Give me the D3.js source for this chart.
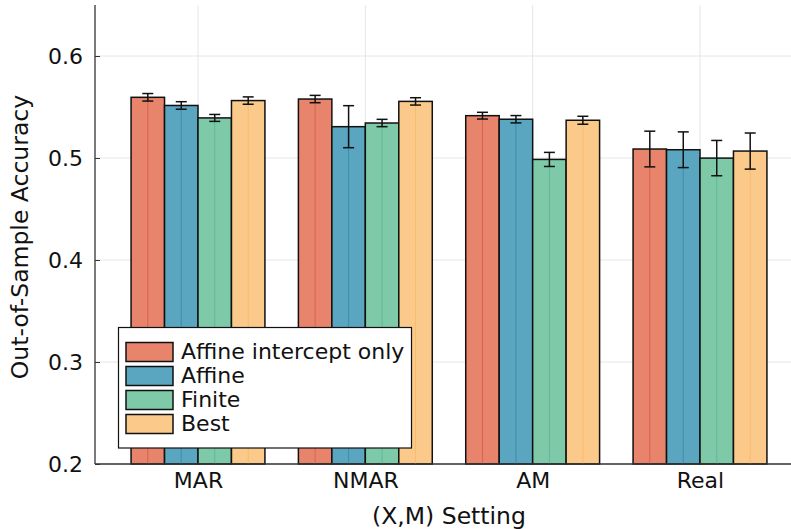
<!DOCTYPE html>
<html><head><meta charset="utf-8">
<script src="https://cdn.jsdelivr.net/npm/d3@7"></script>
<style>body{margin:0;background:#fff}svg{display:block;font-family:"DejaVu Sans",sans-serif}</style>
</head><body><svg id="c" width="791" height="529"></svg>
<script>
const categories = ["MAR","NMAR","AM","Real"];
const seriesNames = ["Affine intercept only","Affine","Finite","Best"];
const affineInterceptMean = [0.5595, 0.5578, 0.5415, 0.5088];
const affineInterceptErr  = [0.0037, 0.0036, 0.0033, 0.0175];
const affineMean = [0.5515, 0.5307, 0.5380, 0.5081];
const affineErr  = [0.0037, 0.0206, 0.0036, 0.0175];
const finiteMean = [0.5393, 0.5343, 0.4986, 0.4999];
const finiteErr  = [0.0034, 0.0036, 0.0069, 0.0173];
const bestMean = [0.5563, 0.5555, 0.5370, 0.5068];
const bestErr  = [0.0036, 0.0036, 0.0039, 0.0177];
const yTicks = [0.2, 0.3, 0.4, 0.5, 0.6];

const means = [affineInterceptMean, affineMean, finiteMean, bestMean];
const errs = [affineInterceptErr, affineErr, finiteErr, bestErr];
const fills = ["#e8846c", "#5aa5c0", "#7ecaa8", "#fbc98a"];
const midLines = ["#d9634a", "#3a8fb0", "#62b991", "#f8bb70"];

const svg = d3.select("#c");
const L = 95, B = 464, T = 5;
const x = d3.scaleLinear().domain([1, 4]).range([198, 700]);
const y = d3.scaleLinear().domain([0.2, 0.65]).range([B, T]);
const unit = x(1) - x(0);
const bw = 0.2 * unit;

// grid
svg.append("g").selectAll("line").data(yTicks).join("line")
  .attr("x1", L).attr("x2", 791).attr("y1", d => y(d)).attr("y2", d => y(d))
  .attr("stroke", "#e6e6e6").attr("stroke-width", 1);
svg.append("g").selectAll("line").data(categories).join("line")
  .attr("x1", (d,i) => x(i+1)).attr("x2", (d,i) => x(i+1)).attr("y1", T).attr("y2", B)
  .attr("stroke", "#e6e6e6").attr("stroke-width", 1);

// bars
const bars = [];
means.forEach((arr, s) => arr.forEach((v, i) => bars.push({s, i, v, e: errs[s][i]})));
const bx = d => x(d.i + 1) + (d.s - 2) * bw;
const g = svg.append("g");
g.selectAll("rect").data(bars).join("rect")
  .attr("x", bx).attr("width", bw)
  .attr("y", d => y(d.v)).attr("height", d => B - y(d.v))
  .attr("fill", d => fills[d.s]).attr("stroke", "#111").attr("stroke-width", 1.5);
g.selectAll("line.mid").data(bars).join("line").attr("class","mid")
  .attr("x1", d => bx(d) + bw/2).attr("x2", d => bx(d) + bw/2)
  .attr("y1", d => y(d.v) + 1).attr("y2", B)
  .attr("stroke", d => midLines[d.s]).attr("stroke-width", 1);

// error bars
const eg = svg.append("g").attr("stroke", "#111").attr("stroke-width", 1.5);
eg.selectAll("line.v").data(bars).join("line").attr("class","v")
  .attr("x1", d => bx(d) + bw/2).attr("x2", d => bx(d) + bw/2)
  .attr("y1", d => y(d.v + d.e)).attr("y2", d => y(d.v - d.e));
eg.selectAll("line.t").data(bars).join("line").attr("class","t")
  .attr("x1", d => bx(d) + bw/2 - 5.5).attr("x2", d => bx(d) + bw/2 + 5.5)
  .attr("y1", d => y(d.v + d.e)).attr("y2", d => y(d.v + d.e));
eg.selectAll("line.b").data(bars).join("line").attr("class","b")
  .attr("x1", d => bx(d) + bw/2 - 5.5).attr("x2", d => bx(d) + bw/2 + 5.5)
  .attr("y1", d => y(d.v - d.e)).attr("y2", d => y(d.v - d.e));

// axes
const yAxis = d3.axisLeft(y).tickValues(yTicks).tickFormat(d3.format(".1f")).tickSize(-5).tickPadding(12);
const ya = svg.append("g").attr("transform", `translate(${L},0)`).call(yAxis);
ya.select(".domain").remove();
ya.selectAll("line").attr("stroke", "#333");
ya.selectAll("text").attr("font-size", 22).attr("fill", "#111").attr("font-family", "DejaVu Sans");

const xAxis = d3.axisBottom(x).tickValues([1,2,3,4]).tickFormat(d => categories[d-1]).tickSize(0).tickPadding(8);
const xa = svg.append("g").attr("transform", `translate(0,${B})`).call(xAxis);
xa.select(".domain").remove();
xa.selectAll("text").attr("font-size", 22).attr("fill", "#111").attr("font-family", "DejaVu Sans");

svg.append("line").attr("x1", L).attr("x2", L).attr("y1", T).attr("y2", B).attr("stroke", "#333").attr("stroke-width", 1.3);
svg.append("line").attr("x1", L).attr("x2", 791).attr("y1", B).attr("y2", B).attr("stroke", "#333").attr("stroke-width", 1.3);

// labels
svg.append("text").attr("x", 449).attr("y", 524).attr("text-anchor", "middle")
  .attr("font-size", 23.5).attr("fill", "#111").text("(X,M) Setting");
svg.append("text").attr("transform", "translate(28,237) rotate(-90)").attr("text-anchor", "middle")
  .attr("font-size", 23.5).attr("fill", "#111").text("Out-of-Sample Accuracy");

// legend
const lg = svg.append("g");
lg.append("rect").attr("x", 118.5).attr("y", 327.5).attr("width", 293).attr("height", 120.5)
  .attr("fill", "#fff").attr("stroke", "#111").attr("stroke-width", 1.2);
seriesNames.forEach((n, s) => {
  const cy = 352 + s * 24;
  lg.append("rect").attr("x", 126).attr("y", cy - 9.5).attr("width", 47).attr("height", 19)
    .attr("fill", fills[s]).attr("stroke", "#111").attr("stroke-width", 1.5);
  lg.append("text").attr("x", 181).attr("y", cy + 7).attr("font-size", 22).attr("fill", "#111").text(n);
});
</script></body></html>
